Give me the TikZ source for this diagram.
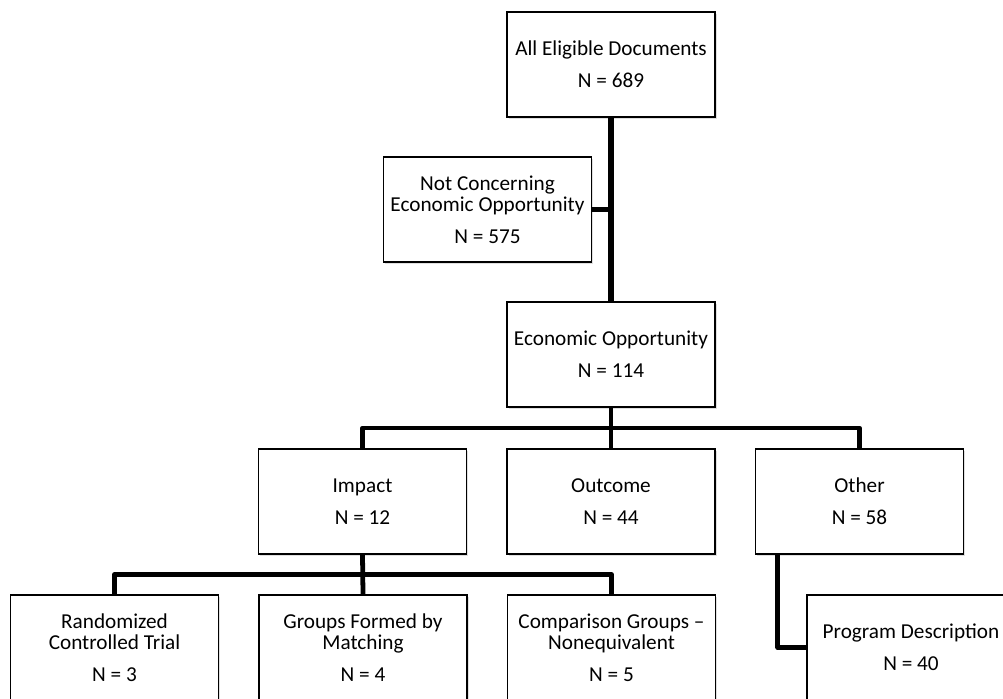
\documentclass[tikz,border=0pt]{standalone}
\usepackage{fontspec}
\setmainfont{Carlito}
\usetikzlibrary{calc,shadows}

\begin{document}
\begin{tikzpicture}[x=0.025cm, y=0.025cm,
    box/.style={draw, line width=0.9pt, fill=white, minimum width=5.2cm, minimum height=2.625cm,
        align=center, inner sep=2pt,
        drop shadow={shadow xshift=1.2pt, shadow yshift=-1.2pt, opacity=0.25},
        font=\fontsize{15.1}{15.2}\selectfont},
    link/.style={line width=3.4pt, line join=round},
    trunk/.style={line width=4pt}]
    \useasboundingbox (0,0) rectangle (1003,698);
    \clip (0,0) rectangle (1003,698);

    \def\gap{\\[7.5pt]}

    \node[box] (all) at (611,633.5) {All Eligible Documents\gap N = 689};
    \node[box] (notc) at (487.5,488.5) {Not Concerning\\Economic Opportunity\gap N = 575};
    \node[box] (econ) at (611,343.5) {Economic Opportunity\gap N = 114};

    \node[box] (impact) at (362.5,196.5) {Impact\gap N = 12};
    \node[box] (outcome) at (611,196.5) {Outcome\gap N = 44};
    \node[box] (other) at (859.5,196.5) {Other\gap N = 58};

    \node[box] (rct) at (114.5,50.5) {Randomized\\Controlled Trial\gap N = 3};
    \node[box] (match) at (363,50.5) {Groups Formed by\\Matching\gap N = 4};
    \node[box] (comp) at (611.5,50.5) {Comparison Groups --\\Nonequivalent\gap N = 5};
    \node[box] (prog) at (911,50.5) {Program Description\gap N = 40};

    \coordinate (bar1) at ($(econ.south)!0.5!(outcome.north)$);
    \coordinate (bar2) at ($(impact.south)!0.5!(match.north)$);
    \coordinate (otherleg) at ($(other.south west)!0.11!(other.south east)$);

    \draw[trunk] (all.south) -- (econ.north);
    \draw[link] (notc.east) -- (notc.east -| all.south);

    \draw[link] (econ.south) -- (outcome.north);
    \draw[link] (impact.north) |- (bar1) -| (other.north);

    \draw[link] (impact.south) -- (match.north);
    \draw[link] (rct.north) |- (bar2) -| (comp.north);

    \draw[link] (otherleg) |- (prog.west);
\end{tikzpicture}
\end{document}
